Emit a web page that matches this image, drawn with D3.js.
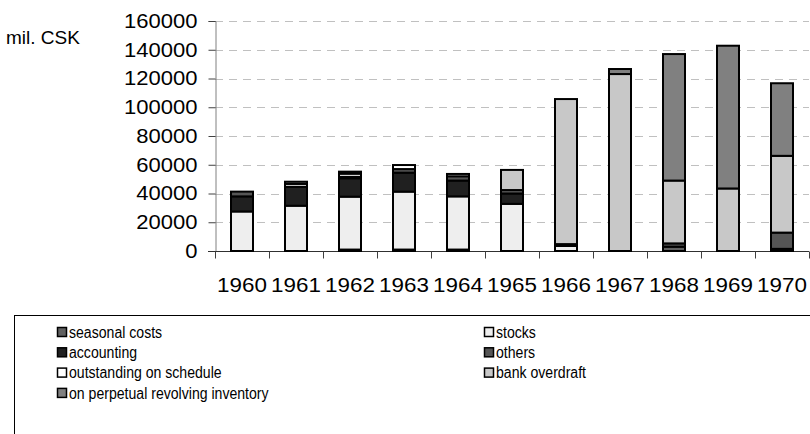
<!DOCTYPE html>
<html><head><meta charset="utf-8">
<script src="https://cdn.jsdelivr.net/npm/d3@7"></script>
<style>html,body{margin:0;padding:0;background:#fff;} svg{display:block;font-family:"Liberation Sans",Arial,sans-serif;}</style>
</head><body><svg id="chart" width="810" height="434"></svg>
<script>
const years = ["1960","1961","1962","1963","1964","1965","1966","1967","1968","1969","1970"];
const seriesNames = ["seasonal costs","stocks","accounting","others","outstanding on schedule","bank overdraft","on perpetual revolving inventory"];
const seasonalCosts = [0, 0, 1000, 1000, 1000, 0, 0, 0, 3000, 0, 1500];
const stocks        = [27500, 31500, 36800, 40300, 37000, 32800, 3500, 0, 0, 0, 0];
const accounting    = [10500, 13200, 12800, 13200, 11000, 7200, 1300, 0, 0, 0, 0];
const others        = [3300, 0, 1000, 2500, 3000, 2400, 0, 0, 2300, 0, 11300];
const outstanding   = [0, 2000, 2200, 2800, 1600, 0, 0, 0, 0, 0, 0];
const bankOverdraft = [0, 1500, 1400, 0, 0, 14000, 100900, 123100, 43700, 43500, 53400];
const perpetual     = [0, 0, 0, 0, 0, 0, 0, 3500, 88000, 99300, 50500];
const seriesColors  = ["#606060","#eeeeee","#202020","#555555","#ffffff","#c8c8c8","#808080"];
const yTicks = [0,20000,40000,60000,80000,100000,120000,140000,160000];
const unitLabel = "mil. CSK";

const seriesValues = [seasonalCosts, stocks, accounting, others, outstanding, bankOverdraft, perpetual];
const rows = years.map((yr, i) => {
  const r = {year: yr};
  seriesNames.forEach((n, k) => r[n] = seriesValues[k][i]);
  return r;
});

const svg = d3.select("#chart");
const P = {left:215, right:809, top:21, bottom:251};

const x = d3.scaleBand().domain(years).range([P.left, P.right]).paddingInner(0.5926).paddingOuter(0.2963);
const y = d3.scaleLinear().domain([0,160000]).range([P.bottom, P.top]);
const color = d3.scaleOrdinal().domain(seriesNames).range(seriesColors);

function stretch(sel, k) {
  sel.each(function() {
    const w = this.getComputedTextLength();
    d3.select(this).attr("textLength", w * k).attr("lengthAdjust", "spacingAndGlyphs");
  });
}

// gridlines
svg.append("g").selectAll("line").data(yTicks.filter(t => t > 0)).join("line")
  .attr("x1", P.left).attr("x2", P.right)
  .attr("y1", d => Math.round(y(d)) + 0.5).attr("y2", d => Math.round(y(d)) + 0.5)
  .attr("stroke", "#c0c0c0").attr("stroke-width", 1).attr("stroke-dasharray", "8,6");

// y axis
const yAxis = d3.axisLeft(y).tickValues(yTicks).tickSize(7).tickPadding(11).tickFormat(d3.format("d"));
const gy = svg.append("g").attr("transform", `translate(${P.left + 0.5},0)`).call(yAxis);
gy.select(".domain").attr("stroke", "#808080");
gy.selectAll(".tick line").attr("stroke", "#404040");
gy.selectAll(".tick text").attr("font-size", 20).attr("fill", "#000").attr("font-family", "Liberation Sans, Arial, sans-serif");
stretch(gy.selectAll(".tick text"), 1.1);

// x axis
const gx = svg.append("g").attr("transform", `translate(0,${P.bottom + 0.5})`);
gx.append("line").attr("x1", P.left - 7).attr("x2", P.right).attr("stroke", "#303030");
gx.selectAll("line.tk").data(d3.range(years.length + 1)).join("line").attr("class", "tk")
  .attr("x1", i => Math.round(P.left + i * x.step()) + 0.5).attr("x2", i => Math.round(P.left + i * x.step()) + 0.5)
  .attr("y1", 0).attr("y2", 7).attr("stroke", "#404040");
const yl = gx.selectAll("text").data(years).join("text")
  .attr("x", d => x(d) + x.bandwidth() / 2).attr("y", 40)
  .attr("text-anchor", "middle").attr("font-size", 20).text(d => d);
stretch(yl, 1.12);

// bars
const stacked = d3.stack().keys(seriesNames)(rows);
svg.append("g").selectAll("g").data(stacked).join("g")
  .attr("fill", d => color(d.key))
  .selectAll("rect").data(d => d.filter(s => s[1] - s[0] > 0)).join("rect")
  .attr("x", d => x(d.data.year)).attr("width", x.bandwidth())
  .attr("y", d => y(d[1])).attr("height", d => y(d[0]) - y(d[1]))
  .attr("stroke", "#000").attr("stroke-width", 2);

// unit label
svg.append("text").attr("x", 6).attr("y", 44).attr("font-size", 19).text(unitLabel);

// legend
const L = {left:14, top:315, colX:[57, 484], rowY0:332, rowDY:20.3, sw:9};
svg.append("rect").attr("x", L.left + 0.5).attr("y", L.top + 0.5).attr("width", 900).attr("height", 300)
  .attr("fill", "none").attr("stroke", "#000");
const li = svg.append("g").selectAll("g").data(seriesNames).join("g")
  .attr("transform", (d, i) => `translate(${L.colX[i % 2]},${L.rowY0 + Math.floor(i / 2) * L.rowDY})`);
li.append("rect").attr("x", 0.5).attr("y", -L.sw / 2).attr("width", L.sw).attr("height", L.sw)
  .attr("fill", d => color(d)).attr("stroke", "#000").attr("stroke-width", 1.5);
const lt = li.append("text").attr("x", L.sw + 3).attr("y", 0).attr("dy", "0.36em").attr("font-size", 16).text(d => d);
stretch(lt, 0.88);
</script></body></html>
